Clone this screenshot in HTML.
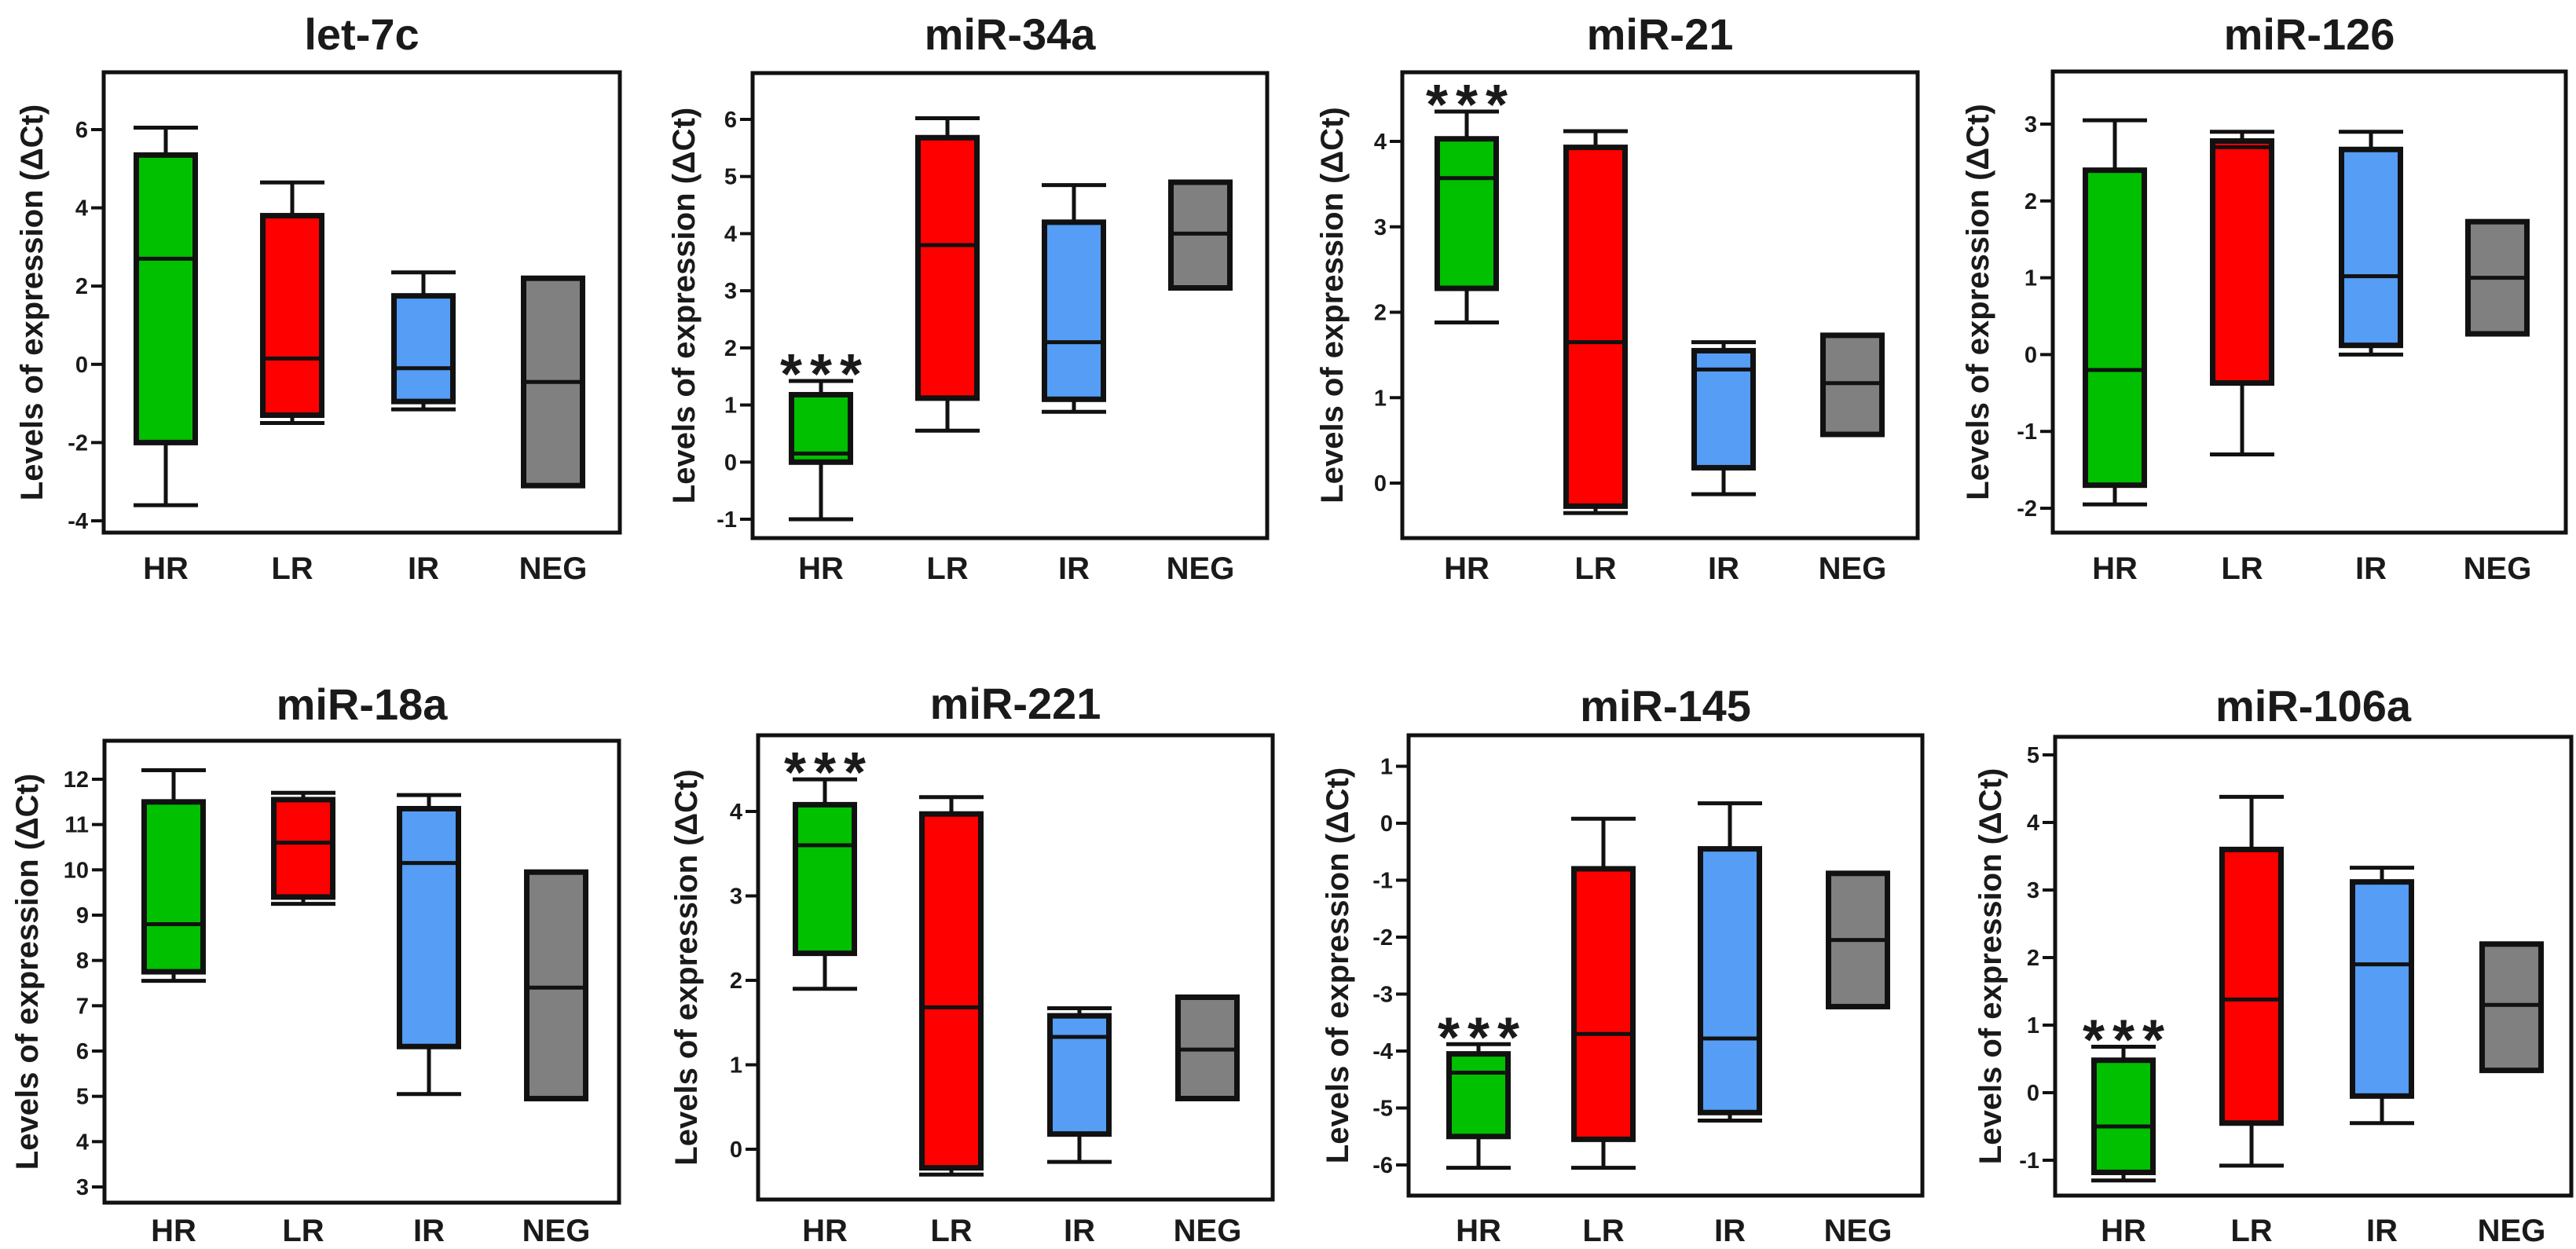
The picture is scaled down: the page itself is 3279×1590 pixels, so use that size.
<!DOCTYPE html>
<html><head><meta charset="utf-8">
<style>
html,body{margin:0;padding:0;background:#fff;}
svg{display:block;}
text{font-family:"Liberation Sans",sans-serif;font-weight:bold;fill:#1a1a1a;}
</style></head>
<body>
<svg id="fig" width="3279" height="1590" viewBox="0 0 3279 1590"></svg>
<script>
// ---- data ----
const titles = ["let-7c","miR-34a","miR-21","miR-126","miR-18a","miR-221","miR-145","miR-106a"];
const groups = ["HR","LR","IR","NEG"];
const colors = ["#00c000","#ff0000","#559df5","#808080"];
const whiskerMax = [[6.05,4.65,2.35,2.2],[1.42,6.02,4.85,4.9],[4.35,4.12,1.65,1.73],[3.05,2.9,2.9,1.73],
                    [12.2,11.7,11.65,9.95],[4.38,4.17,1.67,1.8],[-3.88,0.08,0.35,-0.88],[0.68,4.38,3.33,2.2]];
const q3 = [[5.35,3.8,1.75,2.2],[1.18,5.68,4.2,4.9],[4.03,3.93,1.55,1.73],[2.4,2.78,2.67,1.73],
            [11.5,11.55,11.35,9.95],[4.08,3.97,1.58,1.8],[-4.05,-0.8,-0.45,-0.88],[0.48,3.6,3.12,2.2]];
const medians = [[2.7,0.15,-0.1,-0.45],[0.15,3.8,2.1,4.0],[3.57,1.65,1.33,1.17],[-0.2,2.7,1.02,1.0],
                 [8.8,10.6,10.15,7.4],[3.6,1.68,1.33,1.18],[-4.38,-3.7,-3.78,-2.05],[-0.5,1.38,1.9,1.3]];
const q1 = [[-2.0,-1.3,-0.95,-3.1],[0.0,1.12,1.1,3.05],[2.28,-0.27,0.18,0.57],[-1.7,-0.37,0.12,0.27],
            [7.75,9.4,6.1,4.95],[2.32,-0.22,0.18,0.6],[-5.5,-5.55,-5.08,-3.22],[-1.18,-0.45,-0.05,0.33]];
const whiskerMin = [[-3.6,-1.5,-1.15,-3.1],[-1.0,0.55,0.88,3.05],[1.88,-0.35,-0.13,0.57],[-1.95,-1.3,0.0,0.27],
                    [7.55,9.25,5.05,4.95],[1.9,-0.3,-0.15,0.6],[-6.05,-6.05,-5.22,-3.22],[-1.3,-1.08,-0.45,0.33]];
const tickValues = [[-4,-2,0,2,4,6],[-1,0,1,2,3,4,5,6],[0,1,2,3,4],[-2,-1,0,1,2,3],
                    [3,4,5,6,7,8,9,10,11,12],[0,1,2,3,4],[-6,-5,-4,-3,-2,-1,0,1],[-1,0,1,2,3,4,5]];
const significant = [false,true,true,false,false,true,true,true];

// ---- layout (pixels, not data) ----
// [left,right,top,bottom, v1,y1, v2,y2, ylabelX, titleY, xlabelY]
const layout = [
 [132,789,92,678,  -4,663, 6,165,  40, 44, 722],
 [958,1613,93,685, -1,661, 6,152,  870, 44, 722],
 [1785,2441,92,685, 0,615, 4,180,  1695, 44, 722],
 [2613,3266,91,678, -2,647, 3,158,  2517, 44, 722],
 [133,788,943,1531, 3,1511, 12,992, 34, 897, 1565],
 [965,1620,936,1527, 0,1463, 4,1033, 873, 896, 1565],
 [1793,2447,936,1522, -6,1483, -4,1338, 1702, 899, 1565],
 [2616,3273,938,1522, -1,1477, 0,1391, 2533, 899, 1565]
];
const centers = [[211,372,539,704],[1045,1206,1367,1528],[1867,2031,2194,2358],[2692,2854,3018,3179],
                 [221,386,546,708],[1050,1211,1374,1537],[1882,2041,2202,2365],[2703,2866,3032,3197]];
const BW = 82;

const NS = "http://www.w3.org/2000/svg";
const svg = document.getElementById("fig");
function mk(tag, attrs, parent){
  const e = document.createElementNS(NS, tag);
  for (const k in attrs) e.setAttribute(k, attrs[k]);
  (parent||svg).appendChild(e);
  return e;
}

titles.forEach((title, p) => {
  const L = layout[p];
  const [left,right,top,bottom,v1,y1,v2,y2,ylx,titleY,xly] = L;
  const yScale = v => y1 + (v - v1) * (y2 - y1) / (v2 - v1);
  const g = mk("g", {});
  
  

  const t = mk("text", {x:(left+right)/2, y:titleY+19, "text-anchor":"middle", "font-size":56}, g);
  t.textContent = title;
  
  

  const frame = mk("rect", {x:left, y:top, width:right-left, height:bottom-top, fill:"none", stroke:"#111", "stroke-width":5}, g);
  
  

  const yl = mk("text", {x:0, y:0, "text-anchor":"middle", "font-size":40,
     transform:`translate(${ylx+14},${(top+bottom)/2}) rotate(-90)`}, g);
  yl.textContent = "Levels of expression (\u0394Ct)";
  
  

  tickValues[p].forEach(v => {
    const y = yScale(v);
    const tk = mk("line", {x1:left-16, x2:left, y1:y, y2:y, stroke:"#111", "stroke-width":4}, g);
    
    
    const tl = mk("text", {x:left-20, y:y+10, "text-anchor":"end", "font-size":29}, g);
    tl.textContent = String(v);
    
    
  });

  groups.forEach((grp, i) => {
    const cx = centers[p][i];
    const yMax = yScale(whiskerMax[p][i]), yQ3 = yScale(q3[p][i]), yMed = yScale(medians[p][i]);
    const yQ1 = yScale(q1[p][i]), yMin = yScale(whiskerMin[p][i]);
    const bg = mk("g", {}, g);
    
    
    const w1 = mk("line", {x1:cx, x2:cx, y1:yMax, y2:yQ3, stroke:"#111", "stroke-width":5}, bg);
    
    
    const w2 = mk("line", {x1:cx, x2:cx, y1:yQ1, y2:yMin, stroke:"#111", "stroke-width":5}, bg);
    
    
    if (Math.abs(yMax - yQ3) > 1) {
      const c1 = mk("line", {x1:cx-BW/2, x2:cx+BW/2, y1:yMax, y2:yMax, stroke:"#111", "stroke-width":5}, bg);
      
      
    }
    if (Math.abs(yMin - yQ1) > 1) {
      const c2 = mk("line", {x1:cx-BW/2, x2:cx+BW/2, y1:yMin, y2:yMin, stroke:"#111", "stroke-width":5}, bg);
      
      
    }
    const r = mk("rect", {x:cx-BW/2+3.5, y:yQ3, width:BW-7, height:yQ1-yQ3, fill:colors[i], stroke:"#111", "stroke-width":7}, bg);
    
    
    const m = mk("line", {x1:cx-BW/2+4, x2:cx+BW/2-4, y1:yMed, y2:yMed, stroke:"#111", "stroke-width":5}, bg);
    
    

    const xl = mk("text", {x:cx, y:xly+15, "text-anchor":"middle", "font-size":40}, g);
    xl.textContent = grp;
    
    

    if (i === 0 && significant[p]) {
      const st = mk("text", {x:cx+5, y:yMax+16, "text-anchor":"middle", "font-size":72, "letter-spacing":"10"}, g);
      st.textContent = "***";
      
      
    }
  });
});
</script>
</body></html>
